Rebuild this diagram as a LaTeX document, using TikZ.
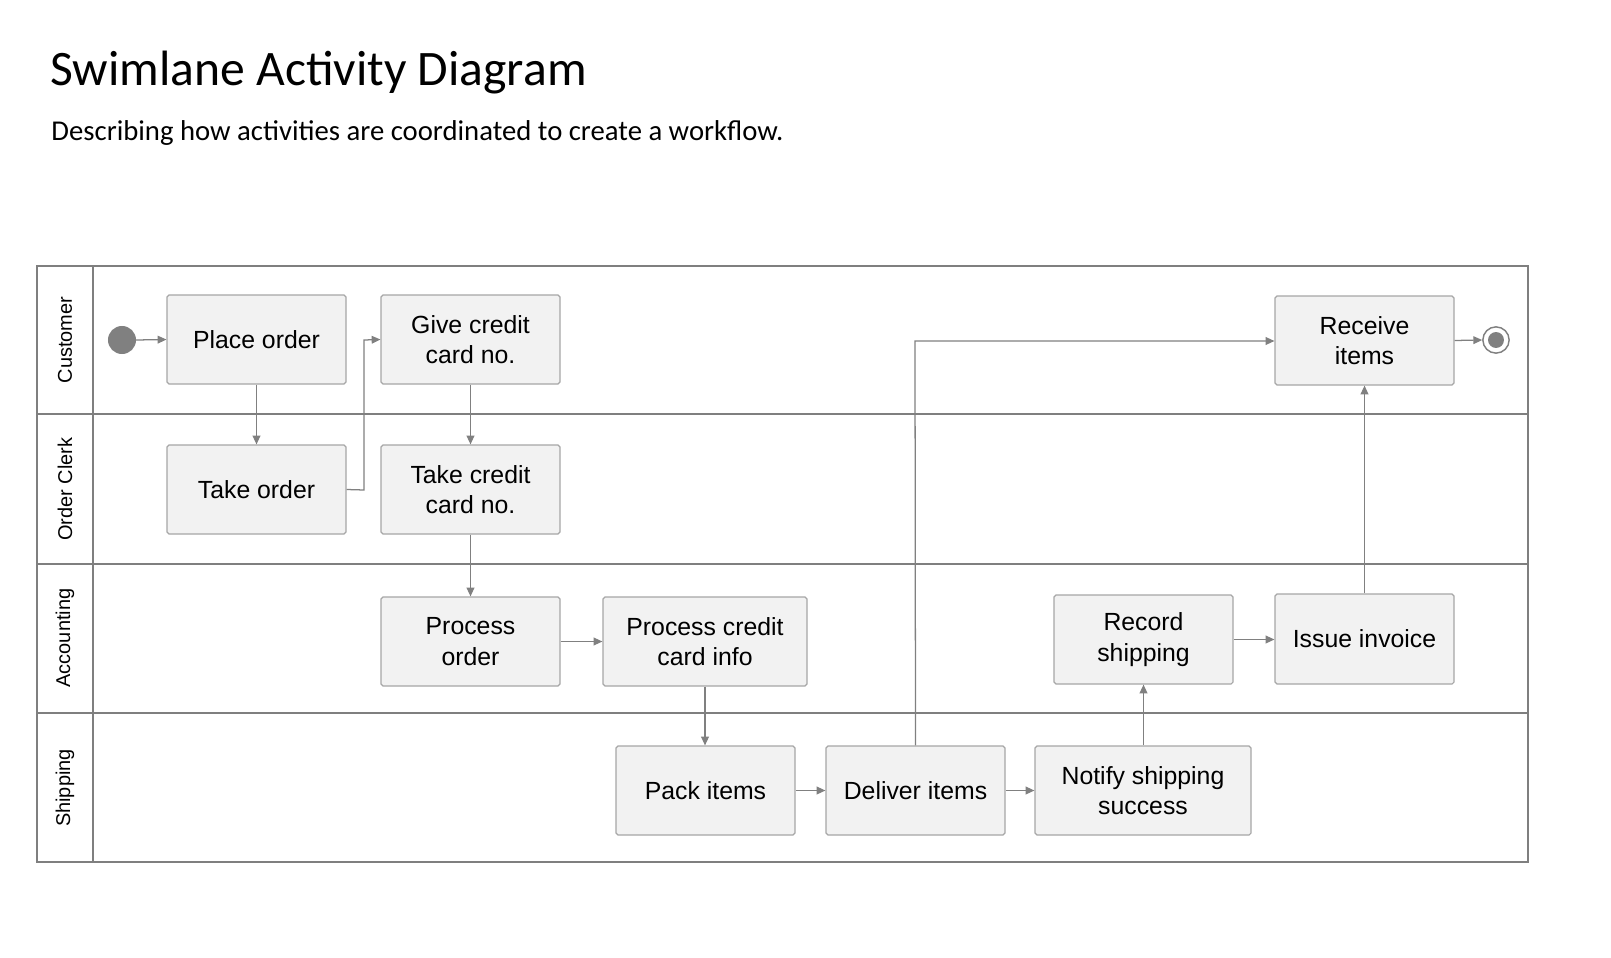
\documentclass[tikz,border=0pt]{standalone}
\usepackage{fontspec}
\setmainfont{Liberation Sans}
\newfontfamily\titlefont{Carlito}
\usetikzlibrary{arrows.meta}
\definecolor{boxfill}{HTML}{F2F2F2}
\definecolor{boxdraw}{HTML}{A6A6A6}
\definecolor{arr}{HTML}{808080}
\definecolor{lane}{HTML}{7F7F7F}
\begin{document}
\begin{tikzpicture}[x=1.0277pt,y=-1.0277pt,
  act/.style={draw=boxdraw,fill=boxfill,rounded corners=2pt,line width=1.2pt,align=center,font=\fontsize{25.5}{31}\selectfont,inner sep=0pt},
  flow/.style={draw=arr,line width=1.3pt,-{Triangle[length=9pt,width=8pt]}},
  lanelab/.style={rotate=90,font=\fontsize{20.5}{24}\selectfont}]
\useasboundingbox (0,0) rectangle (1611,958);
\node[anchor=west,font=\titlefont\fontsize{51}{56}\selectfont] (title) at (47,73) {Swimlane Activity Diagram};
\node[anchor=west,font=\titlefont\fontsize{29.5}{34}\selectfont] (sub) at (48,133) {Describing how activities are coordinated to create a workflow.};
% lanes
\draw[lane,line width=1.5pt] (37,266) rectangle (1528,862);
\draw[lane,line width=1.5pt] (93,266) -- (93,862);
\foreach \y in {414,564,713} \draw[lane,line width=1.5pt] (37,\y) -- (1528,\y);
\node[lanelab] (l1) at (65,340) {Customer};
\node[lanelab] (l2) at (65,489) {Order Clerk};
\node[lanelab] (l3) at (65,638) {Accounting};
\node[lanelab] (l4) at (65,788) {Shipping};
% nodes
\newcommand{\act}[6]{\node[act,minimum width={(#4-#2)*1.0277pt},minimum height={(#5-#3)*1.0277pt}] (#1) at ({(#2+#4)/2},{(#3+#5)/2}) {#6};}
\act{place}{167}{295}{346}{384}{Place order}
\act{give}{381}{295}{560}{384}{Give credit\\card no.}
\act{take}{167}{445}{346}{534}{Take order}
\act{takec}{381}{445}{560}{534}{Take credit\\card no.}
\act{proc}{381}{597}{560}{686}{Process\\order}
\act{procc}{603}{597}{807}{686}{Process credit\\card info}
\act{rec}{1054}{595}{1233}{684}{Record\\shipping}
\act{inv}{1275}{594}{1454}{684}{Issue invoice}
\act{recv}{1275}{296}{1454}{385}{Receive\\items}
\act{pack}{616}{746}{795}{835}{Pack items}
\act{del}{826}{746}{1005}{835}{Deliver items}
\act{notify}{1035}{746}{1251}{835}{Notify shipping\\success}
\fill[arr] (122,340) circle (14.4pt) coordinate (start);
\node[circle,draw=arr,line width=1.5pt,minimum size=27pt,inner sep=0pt] (end) at (1496,340) {};
\fill[arr] (end.center) circle (8.2pt);
% flows
\draw[flow] (136,340) -- (place.west);
\draw[flow] (place) -- (take);
\draw[flow] (take.east) -- (364,490) -- (364,340) -- (give.west);
\draw[flow] (give) -- (takec);
\draw[flow] (takec) -- (proc);
\draw[flow] (proc) -- (procc);
\draw[flow] (procc) -- (procc|-pack.north);
\draw[flow] (pack) -- (del);
\draw[flow] (del) -- (notify);
\draw[flow] (notify.north-|rec) -- (rec.south);
\draw[flow] (rec.east) -- (inv.west|-rec.east);
\draw[flow] (inv) -- (recv);
\draw[flow] (del.north) -- (915,341) -- (recv.west|-0,341);
\draw[flow] (recv.east) -- (end.west);
\end{tikzpicture}
\end{document}
